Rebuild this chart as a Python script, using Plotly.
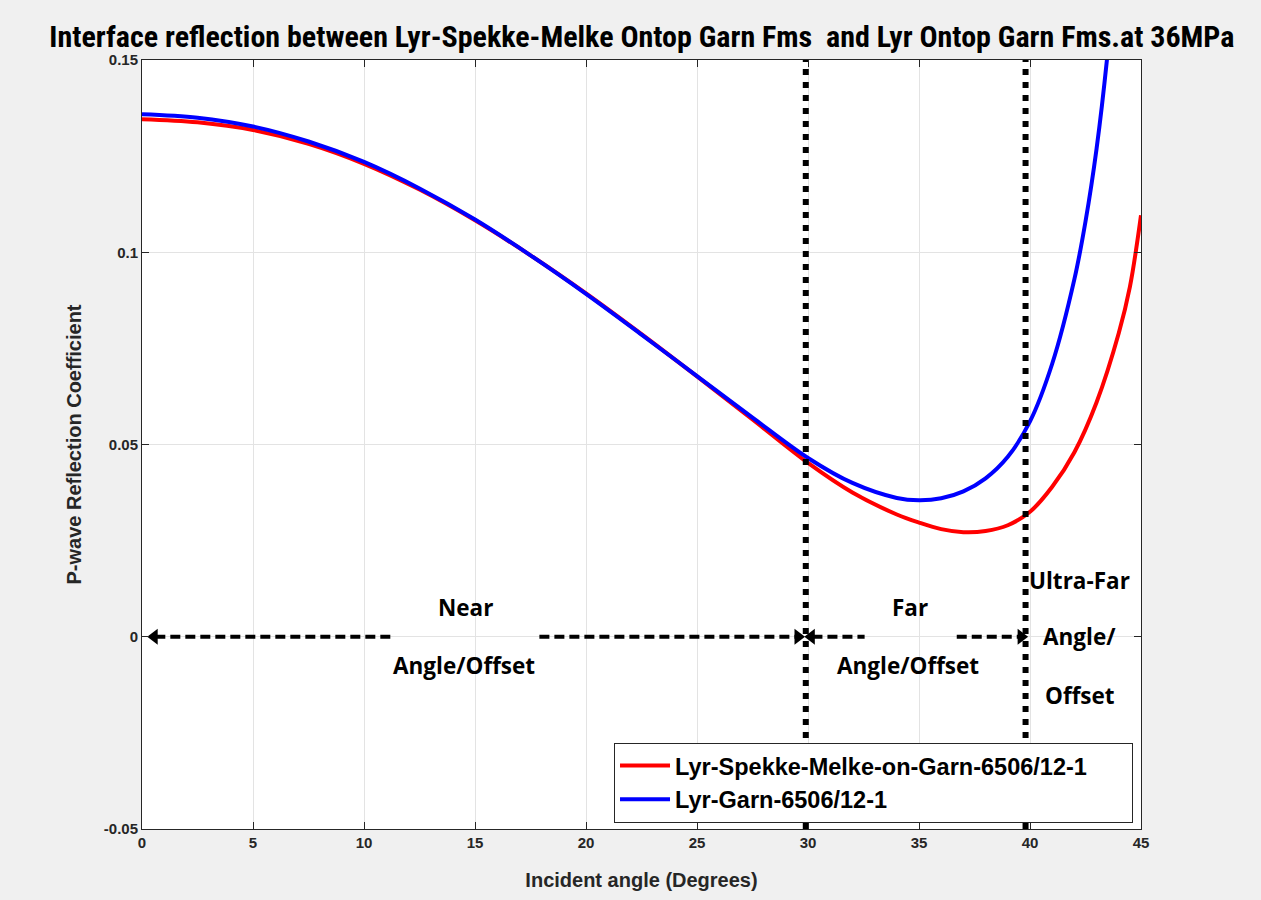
import plotly.graph_objects as go

# ---- data ----
angle_blue = [0, 2.5, 5, 7.5, 10, 12.5, 15, 17.5, 20, 22.5, 25, 27.5, 30, 32, 34, 35, 36, 37, 38, 39, 40, 41, 42, 42.5, 43, 43.5, 44]
refl_blue = [0.1359, 0.1350, 0.1327, 0.1288, 0.1235, 0.1166, 0.1085, 0.0992, 0.0892, 0.0786, 0.0678, 0.0570, 0.0465,
             0.0400, 0.0361, 0.0355, 0.0360, 0.0378, 0.0412, 0.0468, 0.0560, 0.0710, 0.0930, 0.1080, 0.1270, 0.1520, 0.1850]
angle_red = [0, 2.5, 5, 7.5, 10, 12.5, 15, 17.5, 20, 22.5, 25, 27.5, 30, 32, 34, 35, 36, 37, 38, 39, 40, 41, 42, 43, 44, 44.5, 45]
refl_red = [0.1346, 0.1338, 0.1318, 0.1282, 0.1230, 0.1163, 0.1083, 0.0992, 0.0893, 0.0787, 0.0677, 0.0565, 0.0452,
            0.0375, 0.0318, 0.0297, 0.0280, 0.0272, 0.0275, 0.0290, 0.0325, 0.0390, 0.0480, 0.0610, 0.0790, 0.0910, 0.1096]

names = ["Lyr-Spekke-Melke-on-Garn-6506/12-1", "Lyr-Garn-6506/12-1"]

boundaries = [29.9, 39.8]
# arrow segments: (x_start, x_end) along y=0; tips marked separately
arrow_segments = [(0.6, 11.35), (17.9, 29.5), (30.2, 32.55), (36.7, 39.6)]
arrow_tips_left = [0.55, 30.15]
arrow_tips_right = [29.55, 39.6]

labels = [
    ("Near", 14.55, 0.0076), ("Angle/Offset", 14.5, -0.0075),
    ("Far", 34.6, 0.0076), ("Angle/Offset", 34.5, -0.0075),
    ("Ultra-Far", 42.25, 0.0146), ("Angle/", 42.25, 0.0), ("Offset", 42.25, -0.0152),
]

x_ticks = [0, 5, 10, 15, 20, 25, 30, 35, 40, 45]
y_ticks = [-0.05, 0, 0.05, 0.1, 0.15]
y_ticktext = ["-0.05", "0", "0.05", "0.1", "0.15"]

pad = "&nbsp;" * 6

fig = go.Figure()

fig.add_trace(go.Scatter(x=angle_red, y=refl_red, mode="lines", name=f"<b>{names[0]}</b>{pad}",
                         line=dict(color="#ff0000", width=4, shape="spline")))
fig.add_trace(go.Scatter(x=angle_blue, y=refl_blue, mode="lines", name=f"<b>{names[1]}</b>",
                         line=dict(color="#0000ff", width=4, shape="spline")))

for b in boundaries:
    fig.add_trace(go.Scatter(x=[b, b], y=[-0.05, 0.15], mode="lines", showlegend=False,
                             line=dict(color="black", width=6, dash="6px,7px")))

for s, e in arrow_segments:
    fig.add_trace(go.Scatter(x=[s, e], y=[0, 0], mode="lines", showlegend=False,
                             line=dict(color="black", width=4, dash="10px,5px")))
fig.add_trace(go.Scatter(x=arrow_tips_left, y=[0] * len(arrow_tips_left), mode="markers", showlegend=False,
                         marker=dict(symbol="triangle-left", size=14, color="black")))
fig.add_trace(go.Scatter(x=arrow_tips_right, y=[0] * len(arrow_tips_right), mode="markers", showlegend=False,
                         marker=dict(symbol="triangle-right", size=14, color="black")))

for txt, x, y in labels:
    fig.add_annotation(x=x, y=y, text=f"<b>{txt}</b>", showarrow=False,
                       font=dict(family="Open Sans, Lato, sans-serif", size=22.5, color="black"))

axis_common = dict(showgrid=True, gridcolor="#e3e3e3", gridwidth=1, zeroline=False,
                   showline=True, linecolor="#262626", linewidth=1, mirror="ticks",
                   ticks="inside", ticklen=7, tickcolor="#262626",
                   tickfont=dict(family="Liberation Sans, Arial, sans-serif", size=15, color="#262626"))

fig.update_xaxes(range=[0, 45], tickvals=x_ticks, ticktext=[f"<b>{t}</b>" for t in x_ticks],
                 title=dict(text="<b>Incident angle (Degrees)</b>", standoff=22,
                            font=dict(family="Liberation Sans, Arial, sans-serif", size=20, color="#262626")),
                 **axis_common)
fig.update_yaxes(range=[-0.05, 0.15], tickvals=y_ticks, ticktext=[f"<b>{t}</b>" for t in y_ticktext],
                 title=dict(text="<b>P-wave Reflection Coefficient</b>", standoff=16,
                            font=dict(family="Liberation Sans, Arial, sans-serif", size=20, color="#262626")),
                 **axis_common)

fig.update_layout(
    width=1261, height=900,
    margin=dict(l=142, r=120, t=60, b=71),
    paper_bgcolor="#f0f0f0", plot_bgcolor="white",
    title=dict(text="<b>Interface reflection between Lyr-Spekke-Melke Ontop Garn Fms  and Lyr Ontop Garn Fms.at 36MPa</b>",
               x=0.509, xanchor="center", y=1 - 36 / 900, yanchor="middle",
               font=dict(family="Liberation Sans Narrow, Arial Narrow, Roboto Condensed, sans-serif", size=30, color="black")),
    legend=dict(x=0.992, y=0.008, xanchor="right", yanchor="bottom",
                bgcolor="white", bordercolor="#262626", borderwidth=1,
                font=dict(family="Liberation Sans, Arial, sans-serif", size=23.5, color="black"),
                itemwidth=50, tracegroupgap=0),
    showlegend=True,
)

fig.write_html("out.html")
